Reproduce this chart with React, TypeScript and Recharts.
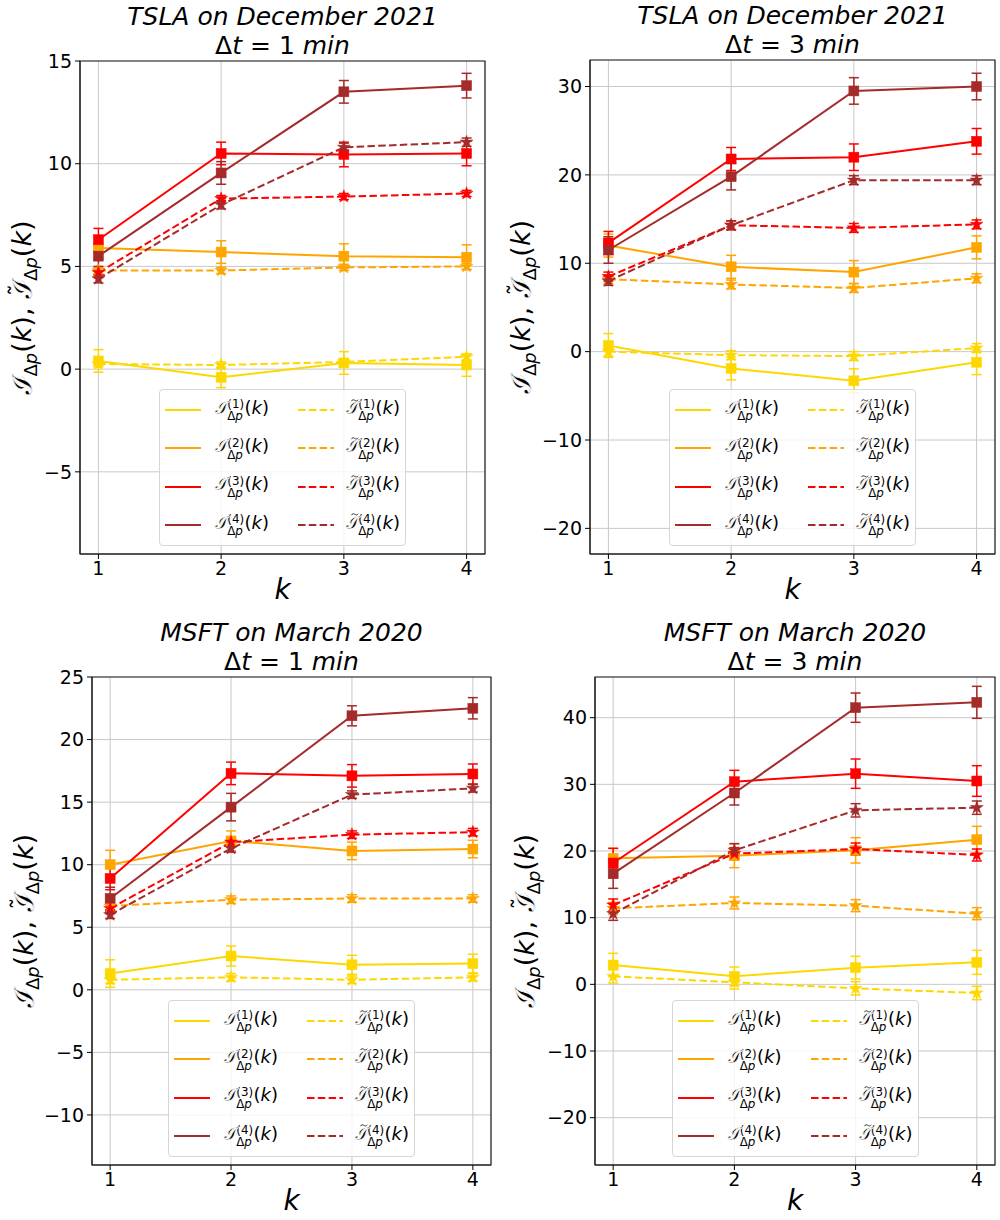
import React from 'react';
import { LineChart, Line, XAxis, YAxis, CartesianGrid, ErrorBar, ReferenceArea } from 'recharts';

// ---------- data ----------
const K_VALUES = [1, 2, 3, 4];
const X_TICKS = [1, 2, 3, 4];

// TSLA, December 2021, Δt = 1 min
const tsla1_I1 = [0.4, -0.4, 0.3, 0.2];
const tsla1_I1_err = [0.55, 0.5, 0.55, 0.55];
const tsla1_I2 = [5.9, 5.7, 5.5, 5.45];
const tsla1_I2_err = [0.55, 0.55, 0.6, 0.6];
const tsla1_I3 = [6.3, 10.5, 10.45, 10.5];
const tsla1_I3_err = [0.55, 0.55, 0.6, 0.6];
const tsla1_I4 = [5.5, 9.55, 13.5, 13.8];
const tsla1_I4_err = [0.5, 0.55, 0.55, 0.6];
const tsla1_T1 = [0.25, 0.2, 0.35, 0.6];
const tsla1_T1_err = [0.15, 0.15, 0.15, 0.15];
const tsla1_T2 = [4.8, 4.8, 4.95, 5.0];
const tsla1_T2_err = [0.15, 0.15, 0.15, 0.15];
const tsla1_T3 = [4.7, 8.3, 8.4, 8.55];
const tsla1_T3_err = [0.15, 0.15, 0.15, 0.15];
const tsla1_T4 = [4.4, 8.0, 10.8, 11.05];
const tsla1_T4_err = [0.2, 0.2, 0.2, 0.2];

// TSLA, December 2021, Δt = 3 min
const tsla3_I1 = [0.7, -1.9, -3.3, -1.2];
const tsla3_I1_err = [1.35, 1.3, 1.35, 1.4];
const tsla3_I2 = [12.0, 9.6, 9.0, 11.8];
const tsla3_I2_err = [1.3, 1.3, 1.3, 1.3];
const tsla3_I3 = [12.3, 21.8, 22.0, 23.8];
const tsla3_I3_err = [1.3, 1.3, 1.5, 1.45];
const tsla3_I4 = [11.5, 19.8, 29.5, 30.0];
const tsla3_I4_err = [1.5, 1.5, 1.5, 1.5];
const tsla3_T1 = [0.0, -0.4, -0.5, 0.4];
const tsla3_T1_err = [0.5, 0.5, 0.5, 0.5];
const tsla3_T2 = [8.2, 7.6, 7.2, 8.3];
const tsla3_T2_err = [0.5, 0.5, 0.5, 0.5];
const tsla3_T3 = [8.5, 14.3, 14.0, 14.4];
const tsla3_T3_err = [0.5, 0.5, 0.5, 0.5];
const tsla3_T4 = [8.0, 14.3, 19.4, 19.4];
const tsla3_T4_err = [0.5, 0.5, 0.5, 0.5];

// MSFT, March 2020, Δt = 1 min
const msft1_I1 = [1.3, 2.7, 2.0, 2.1];
const msft1_I1_err = [1.1, 0.8, 0.76, 0.75];
const msft1_I2 = [10.0, 11.9, 11.1, 11.25];
const msft1_I2_err = [1.15, 0.8, 0.7, 0.7];
const msft1_I3 = [8.9, 17.3, 17.1, 17.25];
const msft1_I3_err = [0.9, 0.9, 0.9, 0.8];
const msft1_I4 = [7.3, 14.6, 21.9, 22.5];
const msft1_I4_err = [0.9, 1.1, 0.8, 0.85];
const msft1_T1 = [0.8, 1.0, 0.8, 1.0];
const msft1_T1_err = [0.3, 0.3, 0.3, 0.3];
const msft1_T2 = [6.7, 7.2, 7.3, 7.3];
const msft1_T2_err = [0.3, 0.3, 0.3, 0.3];
const msft1_T3 = [6.5, 11.8, 12.4, 12.6];
const msft1_T3_err = [0.3, 0.3, 0.3, 0.3];
const msft1_T4 = [6.0, 11.3, 15.6, 16.1];
const msft1_T4_err = [0.3, 0.3, 0.3, 0.3];

// MSFT, March 2020, Δt = 3 min
const msft3_I1 = [2.9, 1.2, 2.5, 3.3];
const msft3_I1_err = [1.75, 1.4, 1.7, 1.8];
const msft3_I2 = [18.9, 19.3, 20.1, 21.7];
const msft3_I2_err = [1.5, 1.8, 1.9, 2.0];
const msft3_I3 = [18.2, 30.4, 31.6, 30.5];
const msft3_I3_err = [2.2, 1.7, 2.2, 2.3];
const msft3_I4 = [16.6, 28.7, 41.5, 42.3];
const msft3_I4_err = [2.2, 1.8, 2.2, 2.4];
const msft3_T1 = [1.2, 0.3, -0.6, -1.3];
const msft3_T1_err = [1.0, 1.0, 1.0, 1.0];
const msft3_T2 = [11.4, 12.2, 11.8, 10.6];
const msft3_T2_err = [0.9, 0.9, 0.9, 0.9];
const msft3_T3 = [11.9, 19.6, 20.3, 19.4];
const msft3_T3_err = [0.9, 0.9, 0.9, 0.9];
const msft3_T4 = [10.6, 20.1, 26.1, 26.5];
const msft3_T4_err = [1.0, 1.0, 1.0, 1.0];

const SERIES_COLORS = ['#FFD700', '#FFA500', '#FF0000', '#A52A2A'];

// ---------- layout ----------
const PANELS = [
  {
    left: 0, top: 0, title: 'TSLA on December 2021', dt: '1',
    plot: { l: 80, t: 61, r: 485, b: 554 }, yDomain: [-9, 15], yTicks: [-5, 0, 5, 10, 15], ylabelBase: 31,
    I: [tsla1_I1, tsla1_I2, tsla1_I3, tsla1_I4], Ie: [tsla1_I1_err, tsla1_I2_err, tsla1_I3_err, tsla1_I4_err],
    T: [tsla1_T1, tsla1_T2, tsla1_T3, tsla1_T4], Te: [tsla1_T1_err, tsla1_T2_err, tsla1_T3_err, tsla1_T4_err],
  },
  {
    left: 500, top: 0, title: 'TSLA on December 2021', dt: '3',
    plot: { l: 90, t: 60, r: 495, b: 554 }, yDomain: [-22.9, 33], yTicks: [-20, -10, 0, 10, 20, 30], ylabelBase: 30,
    I: [tsla3_I1, tsla3_I2, tsla3_I3, tsla3_I4], Ie: [tsla3_I1_err, tsla3_I2_err, tsla3_I3_err, tsla3_I4_err],
    T: [tsla3_T1, tsla3_T2, tsla3_T3, tsla3_T4], Te: [tsla3_T1_err, tsla3_T2_err, tsla3_T3_err, tsla3_T4_err],
  },
  {
    left: 0, top: 610, title: 'MSFT on March 2020', dt: '1',
    plot: { l: 92, t: 67, r: 491, b: 555 }, yDomain: [-14, 25], yTicks: [-10, -5, 0, 5, 10, 15, 20, 25], ylabelBase: 33,
    I: [msft1_I1, msft1_I2, msft1_I3, msft1_I4], Ie: [msft1_I1_err, msft1_I2_err, msft1_I3_err, msft1_I4_err],
    T: [msft1_T1, msft1_T2, msft1_T3, msft1_T4], Te: [msft1_T1_err, msft1_T2_err, msft1_T3_err, msft1_T4_err],
  },
  {
    left: 500, top: 610, title: 'MSFT on March 2020', dt: '3',
    plot: { l: 95, t: 67, r: 495, b: 555 }, yDomain: [-27.1, 46.1], yTicks: [-20, -10, 0, 10, 20, 30, 40], ylabelBase: 34,
    I: [msft3_I1, msft3_I2, msft3_I3, msft3_I4], Ie: [msft3_I1_err, msft3_I2_err, msft3_I3_err, msft3_I4_err],
    T: [msft3_T1, msft3_T2, msft3_T3, msft3_T4], Te: [msft3_T1_err, msft3_T2_err, msft3_T3_err, msft3_T4_err],
  },
];

const PANEL_W = 500;
const PANEL_H = 610;
const X_AXIS_H = 30;
const X_DOMAIN = [0.85, 4.15];

const fmtTick = (v: number) => (v < 0 ? '\u2212' + Math.abs(v) : String(v));

function starPath(cx: number, cy: number, R: number) {
  const r = R * 0.382;
  let d = '';
  for (let i = 0; i < 10; i++) {
    const a = (-90 + i * 36) * Math.PI / 180;
    const rr = i % 2 === 0 ? R : r;
    d += (i === 0 ? 'M' : 'L') + (cx + rr * Math.cos(a)).toFixed(2) + ',' + (cy + rr * Math.sin(a)).toFixed(2);
  }
  return d + 'Z';
}

const squareDot = (color: string) => (props: any) => {
  const { cx, cy, index } = props;
  if (cx == null || cy == null) return <g key={'sq' + index} />;
  return <rect key={'sq' + index} x={cx - 5} y={cy - 5} width={10} height={10} fill={color} stroke={color} strokeWidth={0.5} />;
};

const starDot = (color: string) => (props: any) => {
  const { cx, cy, index } = props;
  if (cx == null || cy == null) return <g key={'st' + index} />;
  return <path key={'st' + index} d={starPath(cx, cy, 6.8)} fill={color} stroke={color} strokeWidth={0.5} />;
};

// ---------- math text helpers (legend, HTML) ----------
const CalI = ({ tilde }: { tilde?: boolean }) => (
  <span style={{ position: 'relative', display: 'inline-block', fontStyle: 'normal', WebkitTextStroke: '0.7px #fff' } as any}>
    𝓘
    {tilde ? (
      <svg viewBox="0 0 12 4" width="0.42em" height="0.16em"
        style={{ position: 'absolute', left: '0.3em', top: '0.1em', overflow: 'visible' }}>
        <path d="M0.5,3.2 C2,0.6 4,0.4 6,1.8 C8,3.2 10,3.2 11.5,0.8" fill="none" stroke="#000" strokeWidth={1.2} />
      </svg>
    ) : null}
  </span>
);

const SupSub = ({ n }: { n: number }) => (
  <span
    style={{
      display: 'inline-flex', flexDirection: 'column', fontSize: '0.66em', lineHeight: 1.0,
      verticalAlign: '0.45em', marginLeft: '0.02em', marginRight: '0.04em',
    }}
  >
    <span>({n})</span>
    <span>Δ<i>p</i></span>
  </span>
);

const Term = ({ tilde, n }: { tilde?: boolean; n: number }) => (
  <span style={{ whiteSpace: 'nowrap' }}>
    <CalI tilde={tilde} />
    <SupSub n={n} />
    <span>(</span><i>k</i><span>)</span>
  </span>
);

// ---------- y label (SVG) ----------
const YLabel = ({ base, cy }: { base: number; cy: number }) => (
  <svg width={50} height={PANEL_H} style={{ position: 'absolute', left: 0, top: 0, overflow: 'visible', pointerEvents: 'none' }}>
    <text transform={`translate(${base},${cy}) rotate(-90)`} textAnchor="middle" fontSize={27} fill="#000"
      fontFamily='"DejaVu Sans", sans-serif'>
      <tspan stroke="#fff" strokeWidth={0.8}>𝓘</tspan>
      <tspan fontSize={18} dy={6}>Δ</tspan>
      <tspan fontSize={18} fontStyle="italic">p</tspan>
      <tspan dy={-6}>(</tspan>
      <tspan fontStyle="italic">k</tspan>
      <tspan>), </tspan>
      <tspan stroke="#fff" strokeWidth={0.8}>𝓘</tspan>
      <tspan fontSize={24} dx={-15} dy={-4}>˜</tspan>
      <tspan fontSize={18} dx={3} dy={10}>Δ</tspan>
      <tspan fontSize={18} fontStyle="italic">p</tspan>
      <tspan dy={-6}>(</tspan>
      <tspan fontStyle="italic">k</tspan>
      <tspan>)</tspan>
    </text>
  </svg>
);

// ---------- panel ----------
function Panel({ p }: { p: any }) {
  const rows = K_VALUES.map((k, i) => {
    const r: any = { k };
    for (let j = 0; j < 4; j++) {
      r['I' + j] = p.I[j][i];
      r['Ie' + j] = p.Ie[j][i];
      r['T' + j] = p.T[j][i];
      r['Te' + j] = p.Te[j][i];
    }
    return r;
  });
  const { l, t, r, b } = p.plot;
  const cxPlot = (l + r) / 2;
  const cyPlot = (t + b) / 2;
  const legendW = 247;
  const legendH = 157;

  const lines: any[] = [];
  for (let j = 0; j < 4; j++) {
    const c = SERIES_COLORS[j];
    lines.push(
      <Line key={'I' + j} type="linear" dataKey={'I' + j} stroke={c} strokeWidth={2}
        dot={squareDot(c)} activeDot={false} isAnimationActive={false}>
        <ErrorBar dataKey={'Ie' + j} width={5} stroke={c} strokeWidth={1.5} direction="y" />
      </Line>
    );
    lines.push(
      <Line key={'T' + j} type="linear" dataKey={'T' + j} stroke={c} strokeWidth={2} strokeDasharray="7.5 3.3"
        dot={starDot(c)} activeDot={false} isAnimationActive={false}>
        <ErrorBar dataKey={'Te' + j} width={5} stroke={c} strokeWidth={1.5} direction="y" />
      </Line>
    );
  }

  return (
    <div style={{ position: 'absolute', left: p.left, top: p.top, width: PANEL_W, height: PANEL_H }}>
      <LineChart width={PANEL_W} height={PANEL_H} data={rows}
        margin={{ top: t, right: PANEL_W - r, bottom: PANEL_H - b - X_AXIS_H, left: 0 }}>
        <CartesianGrid stroke="#c8c8c8" strokeWidth={1} />
        <XAxis dataKey="k" type="number" domain={X_DOMAIN} ticks={X_TICKS} allowDataOverflow
          height={X_AXIS_H} tickSize={5} tickMargin={3}
          tick={{ fill: '#000', fontSize: 19 }} tickLine={{ stroke: '#000' }} axisLine={{ stroke: '#222' }} />
        <YAxis type="number" domain={p.yDomain} ticks={p.yTicks} allowDataOverflow width={l}
          tickSize={5} tickMargin={3} tickFormatter={fmtTick}
          tick={{ fill: '#000', fontSize: 19 }} tickLine={{ stroke: '#000' }} axisLine={{ stroke: '#222' }} />
        <ReferenceArea x1={X_DOMAIN[0]} x2={X_DOMAIN[1]} y1={p.yDomain[0]} y2={p.yDomain[1]}
          fill="none" fillOpacity={0} stroke="#222" strokeWidth={1.2} ifOverflow="visible" />
        {lines}
      </LineChart>

      {/* title */}
      <div style={{ position: 'absolute', left: cxPlot - 250, width: 500, top: t - 59, textAlign: 'center', fontSize: 25, lineHeight: '29px', color: '#000' }}>
        <div style={{ fontStyle: 'italic' }}>{p.title}</div>
        <div>Δ<i>t</i> = {p.dt} <i>min</i></div>
      </div>

      {/* y label */}
      <YLabel base={p.ylabelBase} cy={cyPlot} />

      {/* x label */}
      <div style={{ position: 'absolute', left: cxPlot - 20, width: 40, top: b + 22, textAlign: 'center', fontSize: 28, lineHeight: '28px', fontStyle: 'italic', color: '#000' }}>
        k
      </div>

      {/* legend */}
      <div style={{
        position: 'absolute', left: cxPlot - legendW / 2, top: b - 8 - legendH, width: legendW, height: legendH,
        boxSizing: 'border-box', background: 'rgba(255,255,255,0.8)', border: '1px solid #d6d6d6', borderRadius: 4,
      }}>
        {[0, 1, 2, 3].map((j) => (
          <React.Fragment key={j}>
            {[0, 1].map((col) => (
              <div key={col} style={{
                position: 'absolute', left: col === 0 ? 5 : 138, top: 20 + j * 38.3 - 14, height: 28,
                display: 'flex', alignItems: 'center', fontSize: 18, color: '#000',
              }}>
                <svg width={36} height={6} style={{ marginRight: col === 0 ? 14 : 12 }}>
                  <line x1={0} x2={36} y1={3} y2={3} stroke={SERIES_COLORS[j]} strokeWidth={2}
                    strokeDasharray={col === 1 ? '7.5 3.3' : undefined} />
                </svg>
                <Term tilde={col === 1} n={j + 1} />
              </div>
            ))}
          </React.Fragment>
        ))}
      </div>
    </div>
  );
}

export default function App() {
  return (
    <div style={{
      position: 'absolute', left: 0, top: 0, width: 1000, height: 1220, background: '#fff',
      fontFamily: '"DejaVu Sans", sans-serif', overflow: 'hidden',
    }}>
      {PANELS.map((p, i) => <Panel key={i} p={p} />)}
    </div>
  );
}
